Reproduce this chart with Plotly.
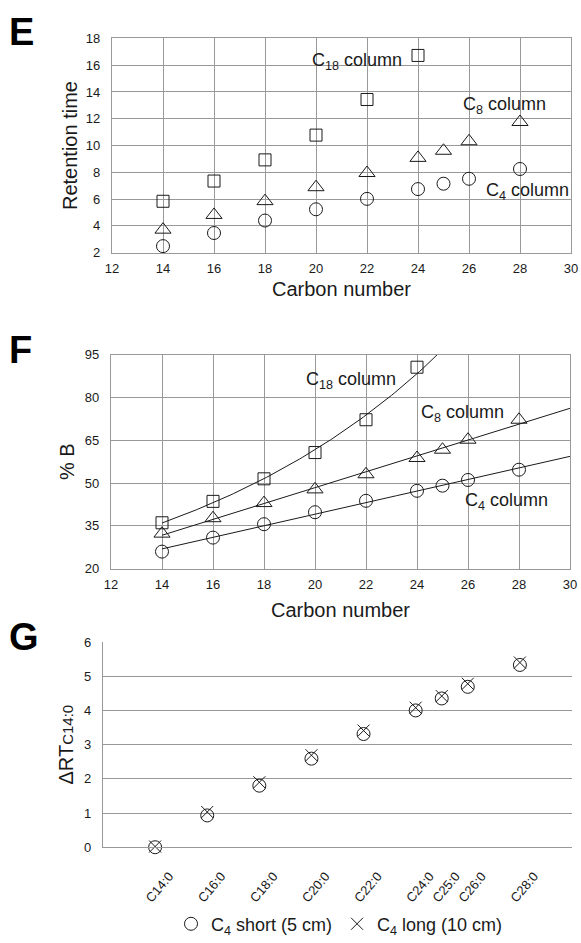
import numpy as np
import plotly.graph_objects as go

# ---------------- data ----------------
carbon_all = [14, 16, 18, 20, 22, 24, 25, 26, 28]
carbon_c18 = [14, 16, 18, 20, 22, 24]

# Panel E: retention time (min)
rt_c18 = [5.84, 7.35, 8.93, 10.78, 13.44, 16.73]
rt_c8 = [3.72, 4.82, 5.85, 6.89, 7.95, 9.08, 9.61, 10.32, 11.76]
rt_c4 = [2.49, 3.47, 4.40, 5.24, 6.02, 6.75, 7.15, 7.52, 8.25]

# Panel F: % B
pb_c18 = [36.1, 43.6, 51.5, 60.7, 72.2, 90.6]
pb_c8 = [32.3, 37.7, 43.0, 47.8, 53.1, 58.8, 61.7, 65.2, 72.2]
pb_c4 = [26.0, 30.9, 35.6, 39.8, 43.8, 47.3, 49.1, 51.1, 54.7]

# Panel G: delta RT relative to C14:0
fa_labels = ["C14:0", "C16:0", "C18:0", "C20:0", "C22:0", "C24:0", "C25:0", "C26:0", "C28:0"]
drt_short = [0.0, 0.93, 1.80, 2.59, 3.31, 4.00, 4.35, 4.69, 5.33]
drt_long = [0.02, 1.03, 1.90, 2.69, 3.41, 4.08, 4.42, 4.78, 5.40]

# ---------------- style ----------------
FONT = "Liberation Sans, Arial, sans-serif"
GRID = "#999999"
INK = "#1a1a1a"

fig = go.Figure()

def mk(symbol, size):
    return dict(symbol=symbol, size=size, color=INK, line=dict(color=INK, width=1))

# ---- Panel E ----
fig.add_trace(go.Scatter(x=carbon_c18, y=rt_c18, mode="markers", marker=mk("square-open", 12),
                         showlegend=False, cliponaxis=False, xaxis="x", yaxis="y"))
fig.add_trace(go.Scatter(x=carbon_all, y=rt_c8, mode="markers", marker=mk("triangle-up-open", 14),
                         showlegend=False, cliponaxis=False, xaxis="x", yaxis="y"))
fig.add_trace(go.Scatter(x=carbon_all, y=rt_c4, mode="markers", marker=mk("circle-open", 13),
                         showlegend=False, cliponaxis=False, xaxis="x", yaxis="y"))

# ---- Panel F (with trend lines) ----
xfit = np.linspace(14, 30, 161)
b18 = np.polyfit(carbon_c18, np.log(pb_c18), 1)
fit18 = np.exp(np.polyval(b18, xfit))
b8 = np.polyfit(carbon_all, pb_c8, 1)
fit8 = np.polyval(b8, xfit)
b4 = np.polyfit(carbon_all, pb_c4, 1)
fit4 = np.polyval(b4, xfit)
for yf in (fit18, fit8, fit4):
    fig.add_trace(go.Scatter(x=xfit, y=yf, mode="lines", line=dict(color=INK, width=1),
                             showlegend=False, hoverinfo="skip", xaxis="x2", yaxis="y2"))
fig.add_trace(go.Scatter(x=carbon_c18, y=pb_c18, mode="markers", marker=mk("square-open", 12),
                         showlegend=False, cliponaxis=False, xaxis="x2", yaxis="y2"))
fig.add_trace(go.Scatter(x=carbon_all, y=pb_c8, mode="markers", marker=mk("triangle-up-open", 14),
                         showlegend=False, cliponaxis=False, xaxis="x2", yaxis="y2"))
fig.add_trace(go.Scatter(x=carbon_all, y=pb_c4, mode="markers", marker=mk("circle-open", 13),
                         showlegend=False, cliponaxis=False, xaxis="x2", yaxis="y2"))

# ---- Panel G ----
fig.add_trace(go.Scatter(x=carbon_all, y=drt_short, mode="markers", name="C<sub>4</sub> short (5 cm)",
                         marker=mk("circle-open", 13), cliponaxis=False, xaxis="x3", yaxis="y3",
                         text=fa_labels))
fig.add_trace(go.Scatter(x=carbon_all, y=drt_long, mode="markers", name="C<sub>4</sub> long (10 cm)",
                         marker=mk("x-thin-open", 12), cliponaxis=False, xaxis="x3", yaxis="y3",
                         text=fa_labels))

W, H = 581, 943
def px_x(a, b):
    return [a / W, b / W]
def px_y(top, bottom):
    return [1 - bottom / H, 1 - top / H]

tickfont = dict(family=FONT, size=13, color=INK)
titlefont = dict(family=FONT, size=20, color=INK)

box_axis = dict(showgrid=True, gridcolor=GRID, gridwidth=1.2, showline=True, linecolor=GRID,
                linewidth=1.2, mirror=True, zeroline=False, ticks="", tickfont=tickfont,
                automargin=False)

fig.update_layout(
    width=W, height=H,
    margin=dict(l=0, r=0, t=0, b=0),
    paper_bgcolor="white", plot_bgcolor="white",
    font=dict(family=FONT, color=INK),
    xaxis=dict(box_axis, domain=px_x(112, 571), range=[12, 30], dtick=2, tick0=12,
               anchor="y", title=dict(text="Carbon number", font=titlefont, standoff=6.5),
               ticklabelstandoff=4),
    yaxis=dict(box_axis, domain=px_y(39, 256.5), range=[2, 18], dtick=2, tick0=2,
               anchor="x", title=dict(text="Retention time", font=titlefont, standoff=2),
               ticklabelstandoff=8),
    xaxis2=dict(box_axis, domain=px_x(111, 570), range=[12, 30], dtick=2, tick0=12,
                anchor="y2", title=dict(text="Carbon number", font=titlefont, standoff=11),
                ticklabelstandoff=4),
    yaxis2=dict(box_axis, domain=px_y(360, 577.3), range=[20, 95], dtick=15, tick0=20,
                anchor="x2", title=dict(text="% B", font=titlefont, standoff=4),
                ticklabelstandoff=8),
    xaxis3=dict(domain=px_x(103, 572), range=[12, 30], anchor="y3", showgrid=False,
                zeroline=False, showline=True, linecolor=GRID, linewidth=1.2, ticks="",
                tickvals=carbon_all, ticktext=fa_labels, tickangle=-50, tickfont=tickfont,
                automargin=False, ticklabelshift=14, ticklabelstandoff=15),
    yaxis3=dict(domain=px_y(651.7, 860), range=[0, 6], dtick=1, tick0=0, anchor="x3",
                showgrid=True, gridcolor=GRID, gridwidth=1.2, showline=True, linecolor=GRID,
                linewidth=1.2, zeroline=False, ticks="", tickfont=tickfont, automargin=False,
                ticklabelstandoff=8,
                title=dict(text="ΔRT<span style='font-size:15px'>C14:0</span>",
                           font=titlefont, standoff=5)),
    legend=dict(orientation="h", x=339.5 / W, xanchor="center", y=1 - 938 / H, yanchor="middle",
                font=dict(family=FONT, size=18, color=INK), bgcolor="rgba(0,0,0,0)",
                itemclick=False),
)

ann = []
def lab(text, x, y, xr, yr):
    ann.append(dict(text=text, x=x, y=y, xref=xr, yref=yr, showarrow=False,
                    font=dict(family=FONT, size=18, color=INK), xanchor="center", yanchor="middle"))

lab("C<sub>18</sub> column", 21.6, 16.3, "x", "y")
lab("C<sub>8</sub> column", 27.41, 13.0, "x", "y")
lab("C<sub>4</sub> column", 28.3, 6.55, "x", "y")
lab("C<sub>18</sub> column", 21.41, 86.0, "x2", "y2")
lab("C<sub>8</sub> column", 25.8, 74.5, "x2", "y2")
lab("C<sub>4</sub> column", 27.49, 43.4, "x2", "y2")

for letter, cx, cy in (("E", 21.4, 32.5), ("F", 20.5, 355), ("G", 24, 646.7)):
    ann.append(dict(text="<b>%s</b>" % letter, x=cx / W, y=1 - cy / H, xref="paper", yref="paper",
                    showarrow=False, xanchor="center", yanchor="middle",
                    font=dict(family=FONT, size=38, color="#000")))

fig.update_layout(annotations=ann)
fig.write_html("out.html", config={"displayModeBar": False},
               post_script="document.body.style.margin='0px';document.body.style.overflow='hidden';")
